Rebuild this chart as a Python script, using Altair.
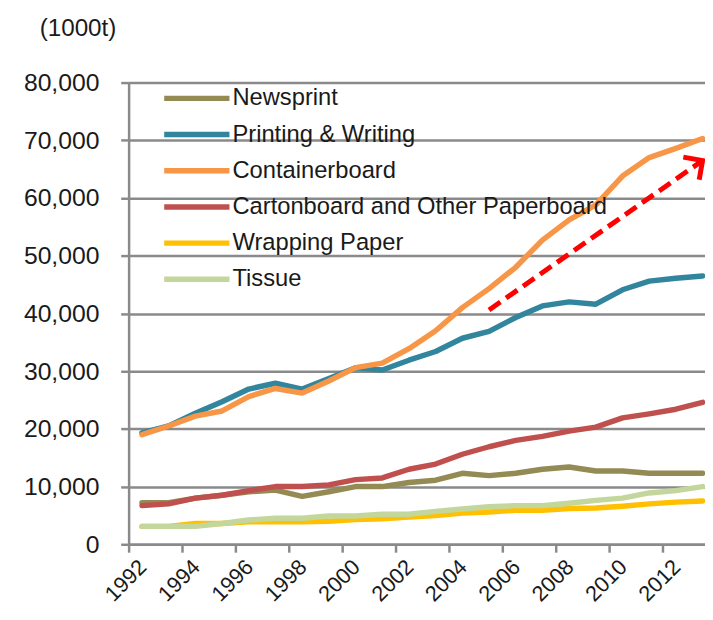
import altair as alt
import pandas as pd

years = list(range(1992, 2014))
series = ["Newsprint", "Printing & Writing", "Containerboard",
          "Cartonboard and Other Paperboard", "Wrapping Paper", "Tissue"]
colors = ["#948A54", "#31859C", "#F79646", "#C0504D", "#FFC000", "#C3D69B"]

newsprint = [7200, 7200, 8000, 8500, 9100, 9400, 8300, 9100, 10000, 10000, 10700,
             11100, 12300, 11900, 12300, 13000, 13400, 12700, 12700, 12300, 12300, 12300]
printing = [19300, 20500, 22700, 24700, 26900, 27900, 26900, 28700, 30600, 30200, 31900,
            33400, 35700, 36900, 39300, 41300, 42000, 41600, 44100, 45600, 46100, 46500]
container = [19000, 20500, 22200, 23100, 25600, 27000, 26200, 28300, 30600, 31400, 33900,
             37000, 41000, 44300, 48000, 52700, 56200, 58800, 63800, 67000, 68600, 70300]
carton = [6700, 7000, 8000, 8500, 9300, 10000, 10000, 10300, 11200, 11500, 13000,
          13900, 15600, 16900, 18000, 18700, 19600, 20300, 21900, 22600, 23400, 24600]
wrapping = [3100, 3100, 3600, 3600, 3900, 3900, 3900, 4000, 4300, 4400, 4700,
            5000, 5400, 5600, 5900, 5900, 6200, 6300, 6600, 7000, 7300, 7500]
tissue = [3100, 3100, 3100, 3600, 4200, 4500, 4500, 4900, 4900, 5200, 5200,
          5700, 6100, 6500, 6700, 6700, 7100, 7600, 8000, 8900, 9300, 10000]

arrow_year = [2005, 2013]
arrow_val = [40600, 66500]

unit_label = ["(1000t)"]
y_ticks = list(range(0, 80001, 10000))
x_ticks = [y + 0.5 for y in range(1991, 2014)]

values = [newsprint, printing, container, carton, wrapping, tissue]
rows = []
for i, (name, vals) in enumerate(zip(series, values)):
    for yr, v in zip(years, vals):
        rows.append({"year": yr, "value": v, "series": name, "order": i})
df = pd.DataFrame(rows)

arrow_df = pd.DataFrame({"year": arrow_year, "value": arrow_val})
head_df = pd.DataFrame({"year": arrow_year[-1:], "value": arrow_val[-1:]})
unit_df = pd.DataFrame({"t": unit_label})

FONT = "Liberation Sans"
GRID = "#8a8a8a"
TEXT = "#1a1a1a"

x_scale = alt.Scale(domain=[1991.5, 2013.09], nice=False, zero=False)
y_scale = alt.Scale(domain=[0, 80000], nice=False)

x_enc = alt.X("year:Q", scale=x_scale, title=None,
              axis=alt.Axis(values=x_ticks, grid=False, ticks=True, tickSize=8,
                            tickColor=GRID, tickWidth=2.5, domainColor=GRID,
                            domainWidth=2.5,
                            labelExpr="(datum.value + 0.5) % 2 == 0 ? format(datum.value + 0.5, 'd') : ''",
                            labelAngle=-45, labelAlign="right", labelBaseline="middle",
                            labelOffset=14, labelPadding=11, labelFontSize=22,
                            labelFont=FONT, labelColor=TEXT,
                            labelOverlap=False, labelFlush=False, labelBound=False))
y_enc = alt.Y("value:Q", scale=y_scale, title=None,
              axis=alt.Axis(values=y_ticks, format=",d", grid=True, gridColor=GRID,
                            gridWidth=2.5, tickSize=8, tickColor=GRID, tickWidth=2.5,
                            domainColor=GRID, domainWidth=2.5, labelFontSize=25,
                            labelFont=FONT, labelColor=TEXT, labelPadding=22))

lines = alt.Chart(df).mark_line(strokeWidth=5.5, strokeCap="round", strokeJoin="round").encode(
    x=x_enc,
    y=y_enc,
    color=alt.Color("series:N", sort=series,
                    scale=alt.Scale(domain=series, range=colors),
                    legend=alt.Legend(title=None, orient="none", legendX=55, legendY=2,
                                      symbolType="M-3,0L3,0", symbolSize=484,
                                      symbolStrokeWidth=5.5, labelFontSize=24,
                                      labelFont=FONT, labelColor=TEXT,
                                      labelOffset=22, rowPadding=10.6, padding=0,
                                      labelLimit=500)),
    order=alt.Order("order:Q"),
)

arrow = alt.Chart(arrow_df).mark_line(color="#FF0000", strokeWidth=5,
                                      strokeDash=[14, 7]).encode(
    x=alt.X("year:Q", scale=x_scale),
    y=alt.Y("value:Q", scale=y_scale),
)

head = alt.Chart(head_df).mark_point(shape="M-1,1L0,0L1,1", size=784, angle=55,
                                     filled=False, strokeWidth=5, color="#FF0000",
                                     opacity=1, strokeJoin="miter").encode(
    x=alt.X("year:Q", scale=x_scale),
    y=alt.Y("value:Q", scale=y_scale),
)

unit = alt.Chart(unit_df).mark_text(align="left", baseline="alphabetic", fontSize=24.5,
                                    font=FONT, color=TEXT).encode(
    text="t:N",
    x=alt.value(-90),
    y=alt.value(-47),
)

chart = alt.layer(lines, arrow, head, unit).properties(
    width=583,
    height=467,
    autosize="none",
    padding={"left": 122, "top": 72, "right": 0, "bottom": 60},
).configure_view(stroke=None)

chart.save("out.html", embed_options={"renderer": "svg", "actions": False})
